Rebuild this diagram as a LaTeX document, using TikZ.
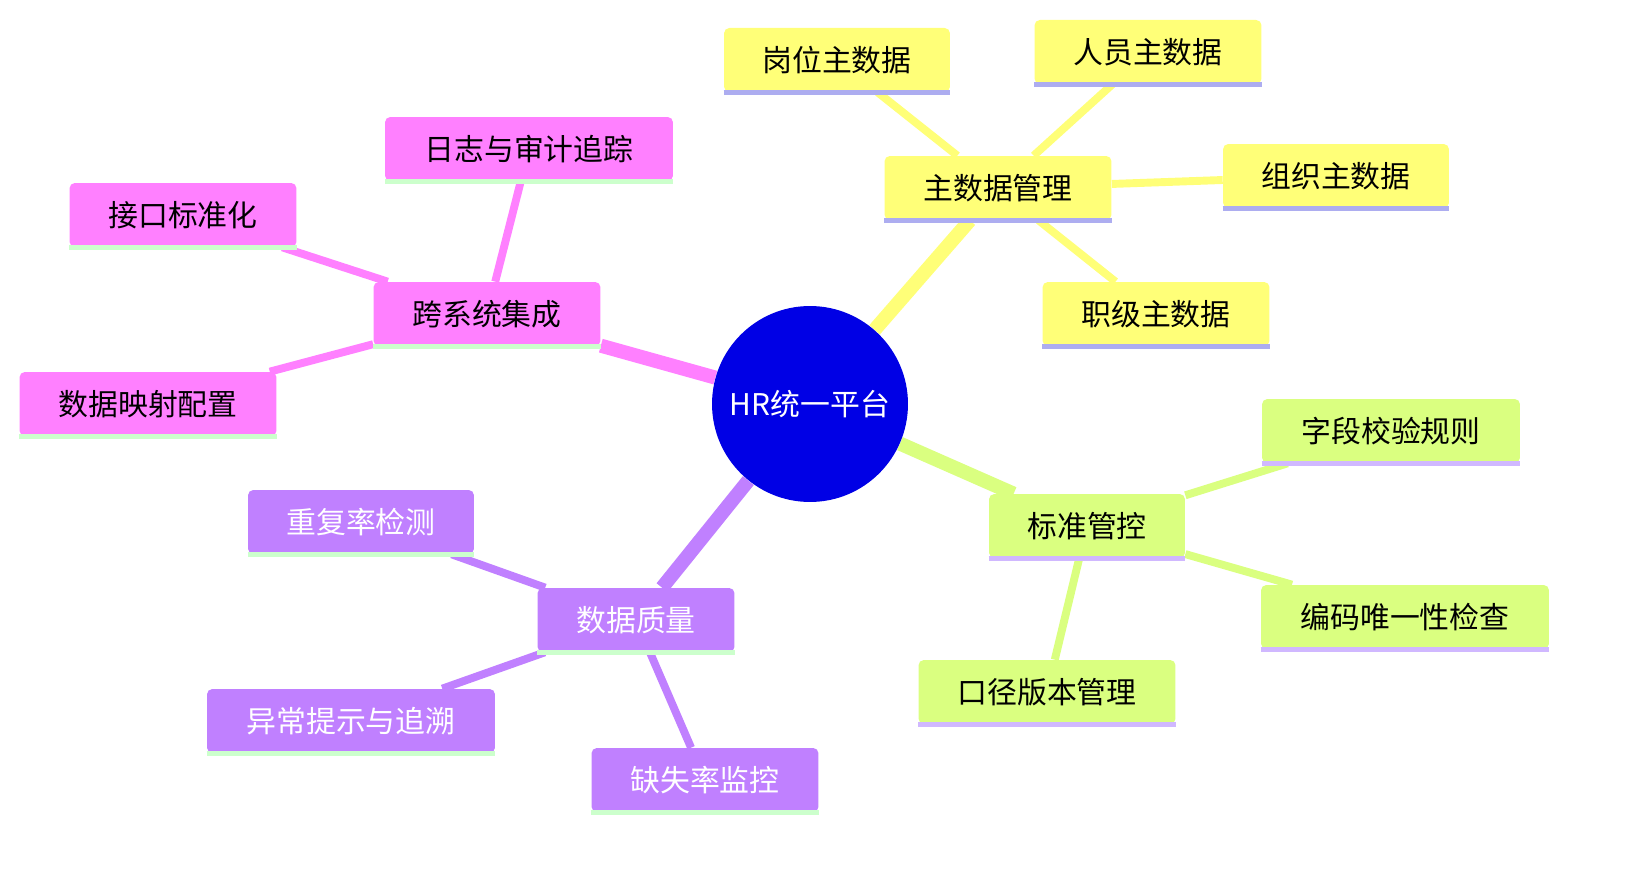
\documentclass[tikz,border=0pt]{standalone}
\usepackage{fontspec}
\setmainfont{Noto Sans CJK SC}
\usetikzlibrary{backgrounds}
\definecolor{ylw}{HTML}{FFFF78}
\definecolor{grn}{HTML}{DAFF80}
\definecolor{prp}{HTML}{C080FF}
\definecolor{pnk}{HTML}{FF80FF}
\definecolor{lav}{HTML}{ADADF0}
\definecolor{lgr}{HTML}{CCFFCC}
\definecolor{lpr}{HTML}{D0B8FF}
\tikzset{
  leaf/.style={rounded corners=3pt, inner sep=0pt, minimum height=1.28cm, font=\fontsize{17}{20}\selectfont},
  trunk/.style={line width=8pt},
  twig/.style={line width=4.5pt}
}
\begin{document}
\begin{tikzpicture}[x=0.02cm, y=-0.02cm]
  \useasboundingbox (0,0) rectangle (1650,874);

  \node[circle, fill=blue!90!black, minimum size=3.92cm, text=white, font=\fontsize{17}{20}\selectfont] (root) at (810,404) {HR统一平台};

  % master data
  \node[leaf, fill=ylw, minimum width=4.54cm] (master) at (998,188) {主数据管理};
  \node[leaf, fill=ylw, minimum width=4.52cm] (post) at (837,60) {岗位主数据};
  \node[leaf, fill=ylw, minimum width=4.54cm] (staff) at (1148,52) {人员主数据};
  \node[leaf, fill=ylw, minimum width=4.52cm] (org) at (1336,176) {组织主数据};
  \node[leaf, fill=ylw, minimum width=4.54cm] (grade) at (1156,314) {职级主数据};

  % standards
  \node[leaf, fill=grn, minimum width=3.92cm] (std) at (1087,526) {标准管控};
  \node[leaf, fill=grn, minimum width=5.16cm] (field) at (1391,431) {字段校验规则};
  \node[leaf, fill=grn, minimum width=5.76cm] (code) at (1405,617) {编码唯一性检查};
  \node[leaf, fill=grn, minimum width=5.14cm] (caliber) at (1047,692) {口径版本管理};

  % quality
  \node[leaf, fill=prp, text=white, minimum width=3.94cm] (quality) at (636,620) {数据质量};
  \node[leaf, fill=prp, text=white, minimum width=4.52cm] (dup) at (361,522) {重复率检测};
  \node[leaf, fill=prp, text=white, minimum width=5.76cm] (alert) at (351,721) {异常提示与追溯};
  \node[leaf, fill=prp, text=white, minimum width=4.54cm] (miss) at (705,780) {缺失率监控};

  % integration
  \node[leaf, fill=pnk, minimum width=4.54cm] (integ) at (487,314) {跨系统集成};
  \node[leaf, fill=pnk, minimum width=5.76cm] (log) at (529,149) {日志与审计追踪};
  \node[leaf, fill=pnk, minimum width=4.54cm] (api) at (183,215) {接口标准化};
  \node[leaf, fill=pnk, minimum width=5.14cm] (map) at (148,404) {数据映射配置};

  % bottom rules
  \foreach \n/\c in {master/lav, post/lav, staff/lav, org/lav, grade/lav,
                     std/lpr, field/lpr, code/lpr, caliber/lpr,
                     quality/lgr, dup/lgr, alert/lgr, miss/lgr,
                     integ/lgr, log/lgr, api/lgr, map/lgr}
    \draw[\c, line width=2.5pt] (\n.south west) -- (\n.south east);

  \begin{scope}[on background layer]
    \draw[trunk, ylw] (root) -- (master);
    \draw[trunk, grn] (root) -- (std);
    \draw[trunk, prp] (root) -- (quality);
    \draw[trunk, pnk] (root) -- (integ);
    \foreach \m in {post, staff, org, grade} \draw[twig, ylw] (master) -- (\m);
    \foreach \m in {field, code, caliber} \draw[twig, grn] (std) -- (\m);
    \foreach \m in {dup, alert, miss} \draw[twig, prp] (quality) -- (\m);
    \foreach \m in {log, api, map} \draw[twig, pnk] (integ) -- (\m);
  \end{scope}
\end{tikzpicture}
\end{document}
